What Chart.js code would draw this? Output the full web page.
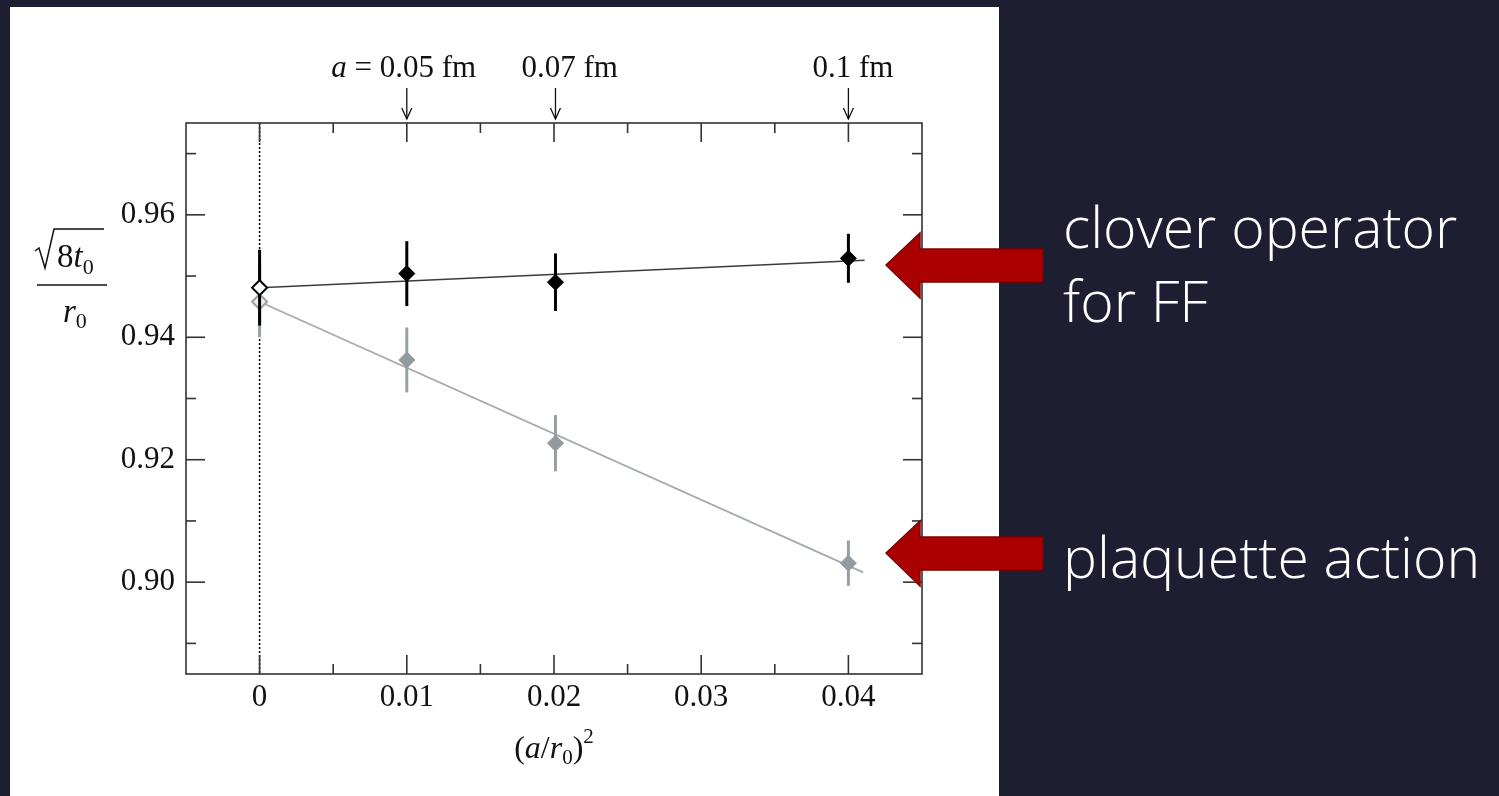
<!DOCTYPE html>
<html><head><meta charset="utf-8">
<script src="https://cdn.jsdelivr.net/npm/chart.js@4.4.0/dist/chart.umd.min.js"></script>
<style>html,body{margin:0;padding:0;background:#1e1e32;overflow:hidden}canvas{display:block}</style>
</head><body>
<canvas id="c" width="1499" height="796"></canvas>
<script>
// ---- data ----
const xTickValues = [0, 0.01, 0.02, 0.03, 0.04];
const xTickLabels = ['0', '0.01', '0.02', '0.03', '0.04'];
const xMinorValues = [0.005, 0.015, 0.025, 0.035];
const yTickValues = [0.90, 0.92, 0.94, 0.96];
const yTickLabels = ['0.90', '0.92', '0.94', '0.96'];
const yMinorValues = [0.89, 0.91, 0.93, 0.95, 0.97];

const cloverX = [0.01, 0.0201, 0.04];
const cloverY = [0.9504, 0.9490, 0.9529];
const cloverErr = [0.0053, 0.0047, 0.0040];
const cloverLimitX = [0];
const cloverLimitY = [0.9481];
const cloverLimitErr = [0.0062];
const cloverFitX = [0, 0.0411];
const cloverFitY = [0.9481, 0.9526];

const plaqX = [0.01, 0.0201, 0.04];
const plaqY = [0.9363, 0.9227, 0.9031];
const plaqErr = [0.0053, 0.0046, 0.0037];
const plaqLimitX = [0];
const plaqLimitY = [0.9458];
const plaqLimitErr = [0.0058];
const plaqFitX = [0, 0.041];
const plaqFitY = [0.9458, 0.9016];

const spacingX = [0.01, 0.0201, 0.04];
const spacingPrefix = ['a', '', ''];
const spacingLabels = [' = 0.05 fm', '0.07 fm', '0.1 fm'];
const annotationLines = ['clover operator', 'for FF', 'plaquette action'];

const pts = (xs, ys) => xs.map((x, i) => ({x, y: ys[i]}));
const SERIF = '"Liberation Serif", "Times New Roman", serif';

function drawRuns(g, runs, x, base) {
  let cx = x;
  runs.forEach(r => {
    g.font = r.font;
    g.fillText(r.t, cx, base + (r.dy || 0));
    cx += g.measureText(r.t).width;
  });
  return cx - x;
}
function runsWidth(g, runs) {
  let w = 0;
  runs.forEach(r => { g.font = r.font; w += g.measureText(r.t).width; });
  return w;
}

const plugin = {
  id: 'decor',
  beforeDraw(c) {
    const g = c.ctx;
    g.save();
    g.fillStyle = '#1e1e32';
    g.fillRect(0, 0, c.width, c.height);
    g.fillStyle = '#ffffff';
    g.fillRect(10, 7, 989, 789);
    g.restore();
  },
  beforeDatasetsDraw(c) {
    const g = c.ctx, a = c.chartArea, xs = c.scales.x;
    g.save();
    g.strokeStyle = '#000';
    g.lineWidth = 1.5;
    g.setLineDash([2, 2]);
    const px = xs.getPixelForValue(0);
    g.beginPath(); g.moveTo(px, a.top); g.lineTo(px, a.bottom); g.stroke();
    g.restore();
  },
  beforeDatasetDraw(c, args) {
    const ds = c.data.datasets[args.index];
    if (!ds.err) return;
    const g = c.ctx, xs = c.scales.x, ys = c.scales.y;
    g.save();
    g.strokeStyle = ds.errColor;
    g.lineWidth = 3;
    ds.data.forEach((p, i) => {
      const px = xs.getPixelForValue(p.x);
      g.beginPath();
      g.moveTo(px, ys.getPixelForValue(p.y + ds.err[i]));
      g.lineTo(px, ys.getPixelForValue(p.y - ds.err[i]));
      g.stroke();
    });
    g.restore();
  },
  afterDatasetsDraw(c) {
    const g = c.ctx, a = c.chartArea, xs = c.scales.x, ys = c.scales.y;
    g.save();
    g.strokeStyle = '#333';
    g.lineWidth = 1.6;
    g.strokeRect(a.left, a.top, a.right - a.left, a.bottom - a.top);
    const tick = (x1, y1, x2, y2) => { g.beginPath(); g.moveTo(x1, y1); g.lineTo(x2, y2); g.stroke(); };
    xTickValues.forEach(v => { const p = xs.getPixelForValue(v); tick(p, a.bottom, p, a.bottom - 19); tick(p, a.top, p, a.top + 19); });
    xMinorValues.forEach(v => { const p = xs.getPixelForValue(v); tick(p, a.bottom, p, a.bottom - 10); tick(p, a.top, p, a.top + 10); });
    yTickValues.forEach(v => { const p = ys.getPixelForValue(v); tick(a.left, p, a.left + 19, p); tick(a.right, p, a.right - 19, p); });
    yMinorValues.forEach(v => { const p = ys.getPixelForValue(v); tick(a.left, p, a.left + 10, p); tick(a.right, p, a.right - 10, p); });
    g.restore();
  },
  afterDraw(c) {
    const g = c.ctx, a = c.chartArea, xs = c.scales.x;
    g.save();
    g.fillStyle = '#111';
    g.strokeStyle = '#111';
    g.textBaseline = 'alphabetic';
    g.textAlign = 'left';
    const F = (s, it) => (it ? 'italic ' : '') + s + 'px ' + SERIF;

    // x-axis title (a/r0)^2
    const xt = [
      {t: '(', font: F(32)}, {t: 'a', font: F(32, true)}, {t: '/', font: F(32)},
      {t: 'r', font: F(32, true)}, {t: '0', font: F(21), dy: 6}, {t: ')', font: F(32)},
      {t: '2', font: F(21), dy: -15}
    ];
    const xw = runsWidth(g, xt);
    drawRuns(g, xt, (a.left + a.right) / 2 - xw / 2, 758);

    // y-axis title sqrt(8 t0) / r0
    g.lineWidth = 1.5;
    g.beginPath();
    g.moveTo(35, 251); g.lineTo(39, 248); g.lineTo(45, 268); g.lineTo(54, 229); g.lineTo(104, 229);
    g.stroke();
    drawRuns(g, [{t: '8', font: F(33)}, {t: 't', font: F(33, true)}, {t: '0', font: F(22), dy: 7}], 57, 267);
    g.beginPath(); g.moveTo(37, 285); g.lineTo(107, 285); g.stroke();
    drawRuns(g, [{t: 'r', font: F(33, true)}, {t: '0', font: F(22), dy: 6}], 63, 322);

    // lattice spacing labels with arrows
    const offs = [0, 34, 36];
    g.lineWidth = 1.3;
    spacingX.forEach((v, i) => {
      const px = xs.getPixelForValue(v);
      const runs = [];
      if (spacingPrefix[i]) runs.push({t: spacingPrefix[i], font: F(31, true)});
      runs.push({t: spacingLabels[i], font: F(31)});
      let left;
      if (i === 0) {
        const pre = runsWidth(g, [{t: 'a', font: F(31, true)}, {t: ' = ', font: F(31)}]);
        g.font = F(31);
        left = px - pre - g.measureText('0.05').width / 2;
      } else {
        left = px - offs[i];
      }
      drawRuns(g, runs, left, 77);
      g.beginPath(); g.moveTo(px, 88); g.lineTo(px, 119); g.stroke();
      g.beginPath(); g.moveTo(px - 5, 108); g.lineTo(px, 119); g.lineTo(px + 5, 108); g.stroke();
    });

    // red arrows
    const arrow = (tipY) => {
      g.beginPath();
      g.moveTo(886, tipY);
      g.lineTo(920, tipY - 32);
      g.lineTo(920, tipY - 16);
      g.lineTo(1043, tipY - 16);
      g.lineTo(1043, tipY + 17);
      g.lineTo(920, tipY + 17);
      g.lineTo(920, tipY + 33);
      g.closePath();
      g.fillStyle = '#aa0000';
      g.fill();
      g.strokeStyle = '#7e0000';
      g.lineWidth = 1.5;
      g.stroke();
    };
    arrow(265);
    arrow(553);

    // annotation text
    const fam = '"Open Sans", "Noto Sans", sans-serif';
    g.font = '300 50px ' + fam;
    const size = 50 * 394 / g.measureText(annotationLines[0]).width;
    g.font = '300 ' + size.toFixed(1) + 'px ' + fam;
    g.fillStyle = '#ffffff';
    g.fillText(annotationLines[0], 1063, 248);
    g.fillText(annotationLines[1], 1063, 322);
    g.fillText(annotationLines[2], 1063, 578);
    g.restore();
  }
};

new Chart(document.getElementById('c'), {
  type: 'scatter',
  data: {
    datasets: [
      {data: pts(cloverLimitX, cloverLimitY), pointStyle: 'rectRot', pointRadius: 7.5, backgroundColor: '#ffffff', borderColor: '#000', borderWidth: 2, err: cloverLimitErr, errColor: '#000', clip: false},
      {data: pts(cloverX, cloverY), pointStyle: 'rectRot', pointRadius: 8, backgroundColor: '#000', borderColor: '#000', borderWidth: 1, err: cloverErr, errColor: '#000', clip: false},
      {data: pts(cloverFitX, cloverFitY), showLine: true, pointRadius: 0, borderColor: '#3c3c3c', borderWidth: 1.5, clip: false},
      {data: pts(plaqLimitX, plaqLimitY), pointStyle: 'rectRot', pointRadius: 7.5, backgroundColor: '#eef0f0', borderColor: '#9aa2a5', borderWidth: 2, err: plaqLimitErr, errColor: '#9aa2a5', clip: false},
      {data: pts(plaqX, plaqY), pointStyle: 'rectRot', pointRadius: 8, backgroundColor: '#939b9e', borderColor: '#939b9e', borderWidth: 1, err: plaqErr, errColor: '#979fa2', clip: false},
      {data: pts(plaqFitX, plaqFitY), showLine: true, pointRadius: 0, borderColor: '#a3abae', borderWidth: 1.8, clip: false}
    ]
  },
  options: {
    responsive: false,
    devicePixelRatio: 1,
    animation: false,
    events: [],
    layout: {padding: {top: 123, right: 577, left: 0, bottom: 0}},
    plugins: {legend: {display: false}, tooltip: {enabled: false}},
    scales: {
      x: {
        type: 'linear', min: -0.005, max: 0.045,
        afterBuildTicks(s) { s.ticks = xTickValues.map(v => ({value: v})); },
        afterFit(s) { s.height = 122; },
        grid: {display: false, drawTicks: false}, border: {display: false},
        ticks: {padding: 5, color: '#111', autoSkip: false, maxRotation: 0,
          font: {family: SERIF, size: 31},
          callback: v => xTickLabels[xTickValues.indexOf(v)]}
      },
      y: {
        type: 'linear', min: 0.885, max: 0.975,
        afterBuildTicks(s) { s.ticks = yTickValues.map(v => ({value: v})); },
        afterFit(s) { s.width = 186; },
        grid: {display: false, drawTicks: false}, border: {display: false},
        ticks: {padding: 11, color: '#111', autoSkip: false,
          font: {family: SERIF, size: 31},
          callback: v => yTickLabels[yTickValues.indexOf(v)]}
      }
    }
  },
  plugins: [plugin]
});
</script>
</body></html>
